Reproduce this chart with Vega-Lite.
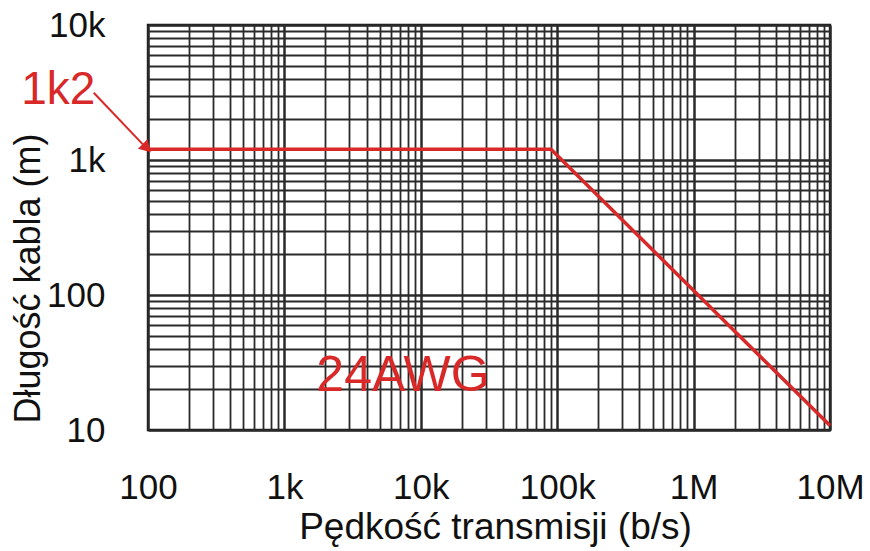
{
  "$schema": "https://vega.github.io/schema/vega-lite/v6.json",
  "width": 682,
  "height": 405,
  "autosize": "none",
  "padding": {"left": 148, "top": 25, "right": 40, "bottom": 121},
  "background": "white",
  "config": {
    "font": "Liberation Sans",
    "view": {"stroke": "#111111", "strokeWidth": 2.4}
  },
  "datasets": {
    "curve": [
      {"rate": 100, "length": 1200},
      {"rate": 90000, "length": 1200},
      {"rate": 10000000, "length": 10.8}
    ],
    "labels": [
      {"rate": 22, "length": 3300, "text": "1k2", "size": 46},
      {"rate": 7400, "length": 25, "text": "24AWG", "size": 50}
    ],
    "arrow": [
      {"rate": 40, "length": 3150, "rate2": 97, "length2": 1230}
    ],
    "head": [
      {"rate": 98, "length": 1225}
    ]
  },
  "layer": [
    {
      "data": {"name": "curve"},
      "mark": {"type": "line", "color": "#d82828", "strokeWidth": 3.5},
      "encoding": {
        "x": {
          "field": "rate",
          "type": "quantitative",
          "scale": {"type": "log", "domain": [100, 10000000], "nice": false},
          "axis": {
            "values": [100,200,300,400,500,600,700,800,900,1000,2000,3000,4000,5000,6000,7000,8000,9000,10000,20000,30000,40000,50000,60000,70000,80000,90000,100000,200000,300000,400000,500000,600000,700000,800000,900000,1000000,2000000,3000000,4000000,5000000,6000000,7000000,8000000,9000000,10000000],
            "labelExpr": "datum.value == 100 ? '100' : datum.value == 1000 ? '1k' : datum.value == 10000 ? '10k' : datum.value == 100000 ? '100k' : datum.value == 1000000 ? '1M' : datum.value == 10000000 ? '10M' : ''",
            "labelOverlap": false,
            "labelFontSize": 35,
            "labelColor": "#111111",
            "labelPadding": 40,
            "labelFlush": false,
            "ticks": false,
            "domain": false,
            "grid": true,
            "gridColor": "#2a2a2a",
            "gridOpacity": 1,
            "gridWidth": {"condition": {"test": "indexof([100,1000,10000,100000,1000000,10000000], datum.value) >= 0", "value": 2.5}, "value": 1.8},
            "title": "Pędkość transmisji (b/s)",
            "titleFontSize": 37,
            "titleFontWeight": "normal",
            "titleColor": "#111111",
            "titleX": 347,
            "titleY": 97,
            "titleAlign": "center",
            "titleBaseline": "middle"
          }
        },
        "y": {
          "field": "length",
          "type": "quantitative",
          "scale": {"type": "log", "domain": [10, 10000], "nice": false},
          "axis": {
            "values": [10,20,30,40,50,60,70,80,90,100,200,300,400,500,600,700,800,900,1000,2000,3000,4000,5000,6000,7000,8000,9000,10000],
            "labelExpr": "datum.value == 10 ? '10' : datum.value == 100 ? '100' : datum.value == 1000 ? '1k' : datum.value == 10000 ? '10k' : ''",
            "labelOverlap": false,
            "labelFontSize": 35,
            "labelColor": "#111111",
            "labelPadding": 43,
            "labelFlush": false,
            "ticks": false,
            "domain": false,
            "grid": true,
            "gridColor": "#2a2a2a",
            "gridOpacity": 1,
            "gridWidth": {"condition": {"test": "indexof([10,100,1000,10000], datum.value) >= 0", "value": 2.5}, "value": 1.8},
            "title": "Długość kabla (m)",
            "titleFontSize": 36,
            "titleFontWeight": "normal",
            "titleColor": "#111111",
            "titleX": -120,
            "titleY": 253,
            "titleAngle": 270,
            "titleAlign": "center",
            "titleBaseline": "middle"
          }
        }
      }
    },
    {
      "data": {"name": "arrow"},
      "mark": {"type": "rule", "color": "#d82828", "strokeWidth": 2},
      "encoding": {
        "x": {"field": "rate", "type": "quantitative"},
        "y": {"field": "length", "type": "quantitative"},
        "x2": {"field": "rate2"},
        "y2": {"field": "length2"}
      }
    },
    {
      "data": {"name": "head"},
      "mark": {"type": "point", "shape": "triangle-up", "filled": true, "color": "#d82828", "size": 180, "angle": 135, "opacity": 1},
      "encoding": {
        "x": {"field": "rate", "type": "quantitative"},
        "y": {"field": "length", "type": "quantitative"}
      }
    },
    {
      "data": {"name": "labels"},
      "mark": {"type": "text", "color": "#d82828", "align": "center", "baseline": "middle", "font": "Liberation Sans"},
      "encoding": {
        "x": {"field": "rate", "type": "quantitative"},
        "y": {"field": "length", "type": "quantitative"},
        "text": {"field": "text"},
        "size": {"field": "size", "type": "quantitative", "scale": null}
      }
    }
  ]
}
